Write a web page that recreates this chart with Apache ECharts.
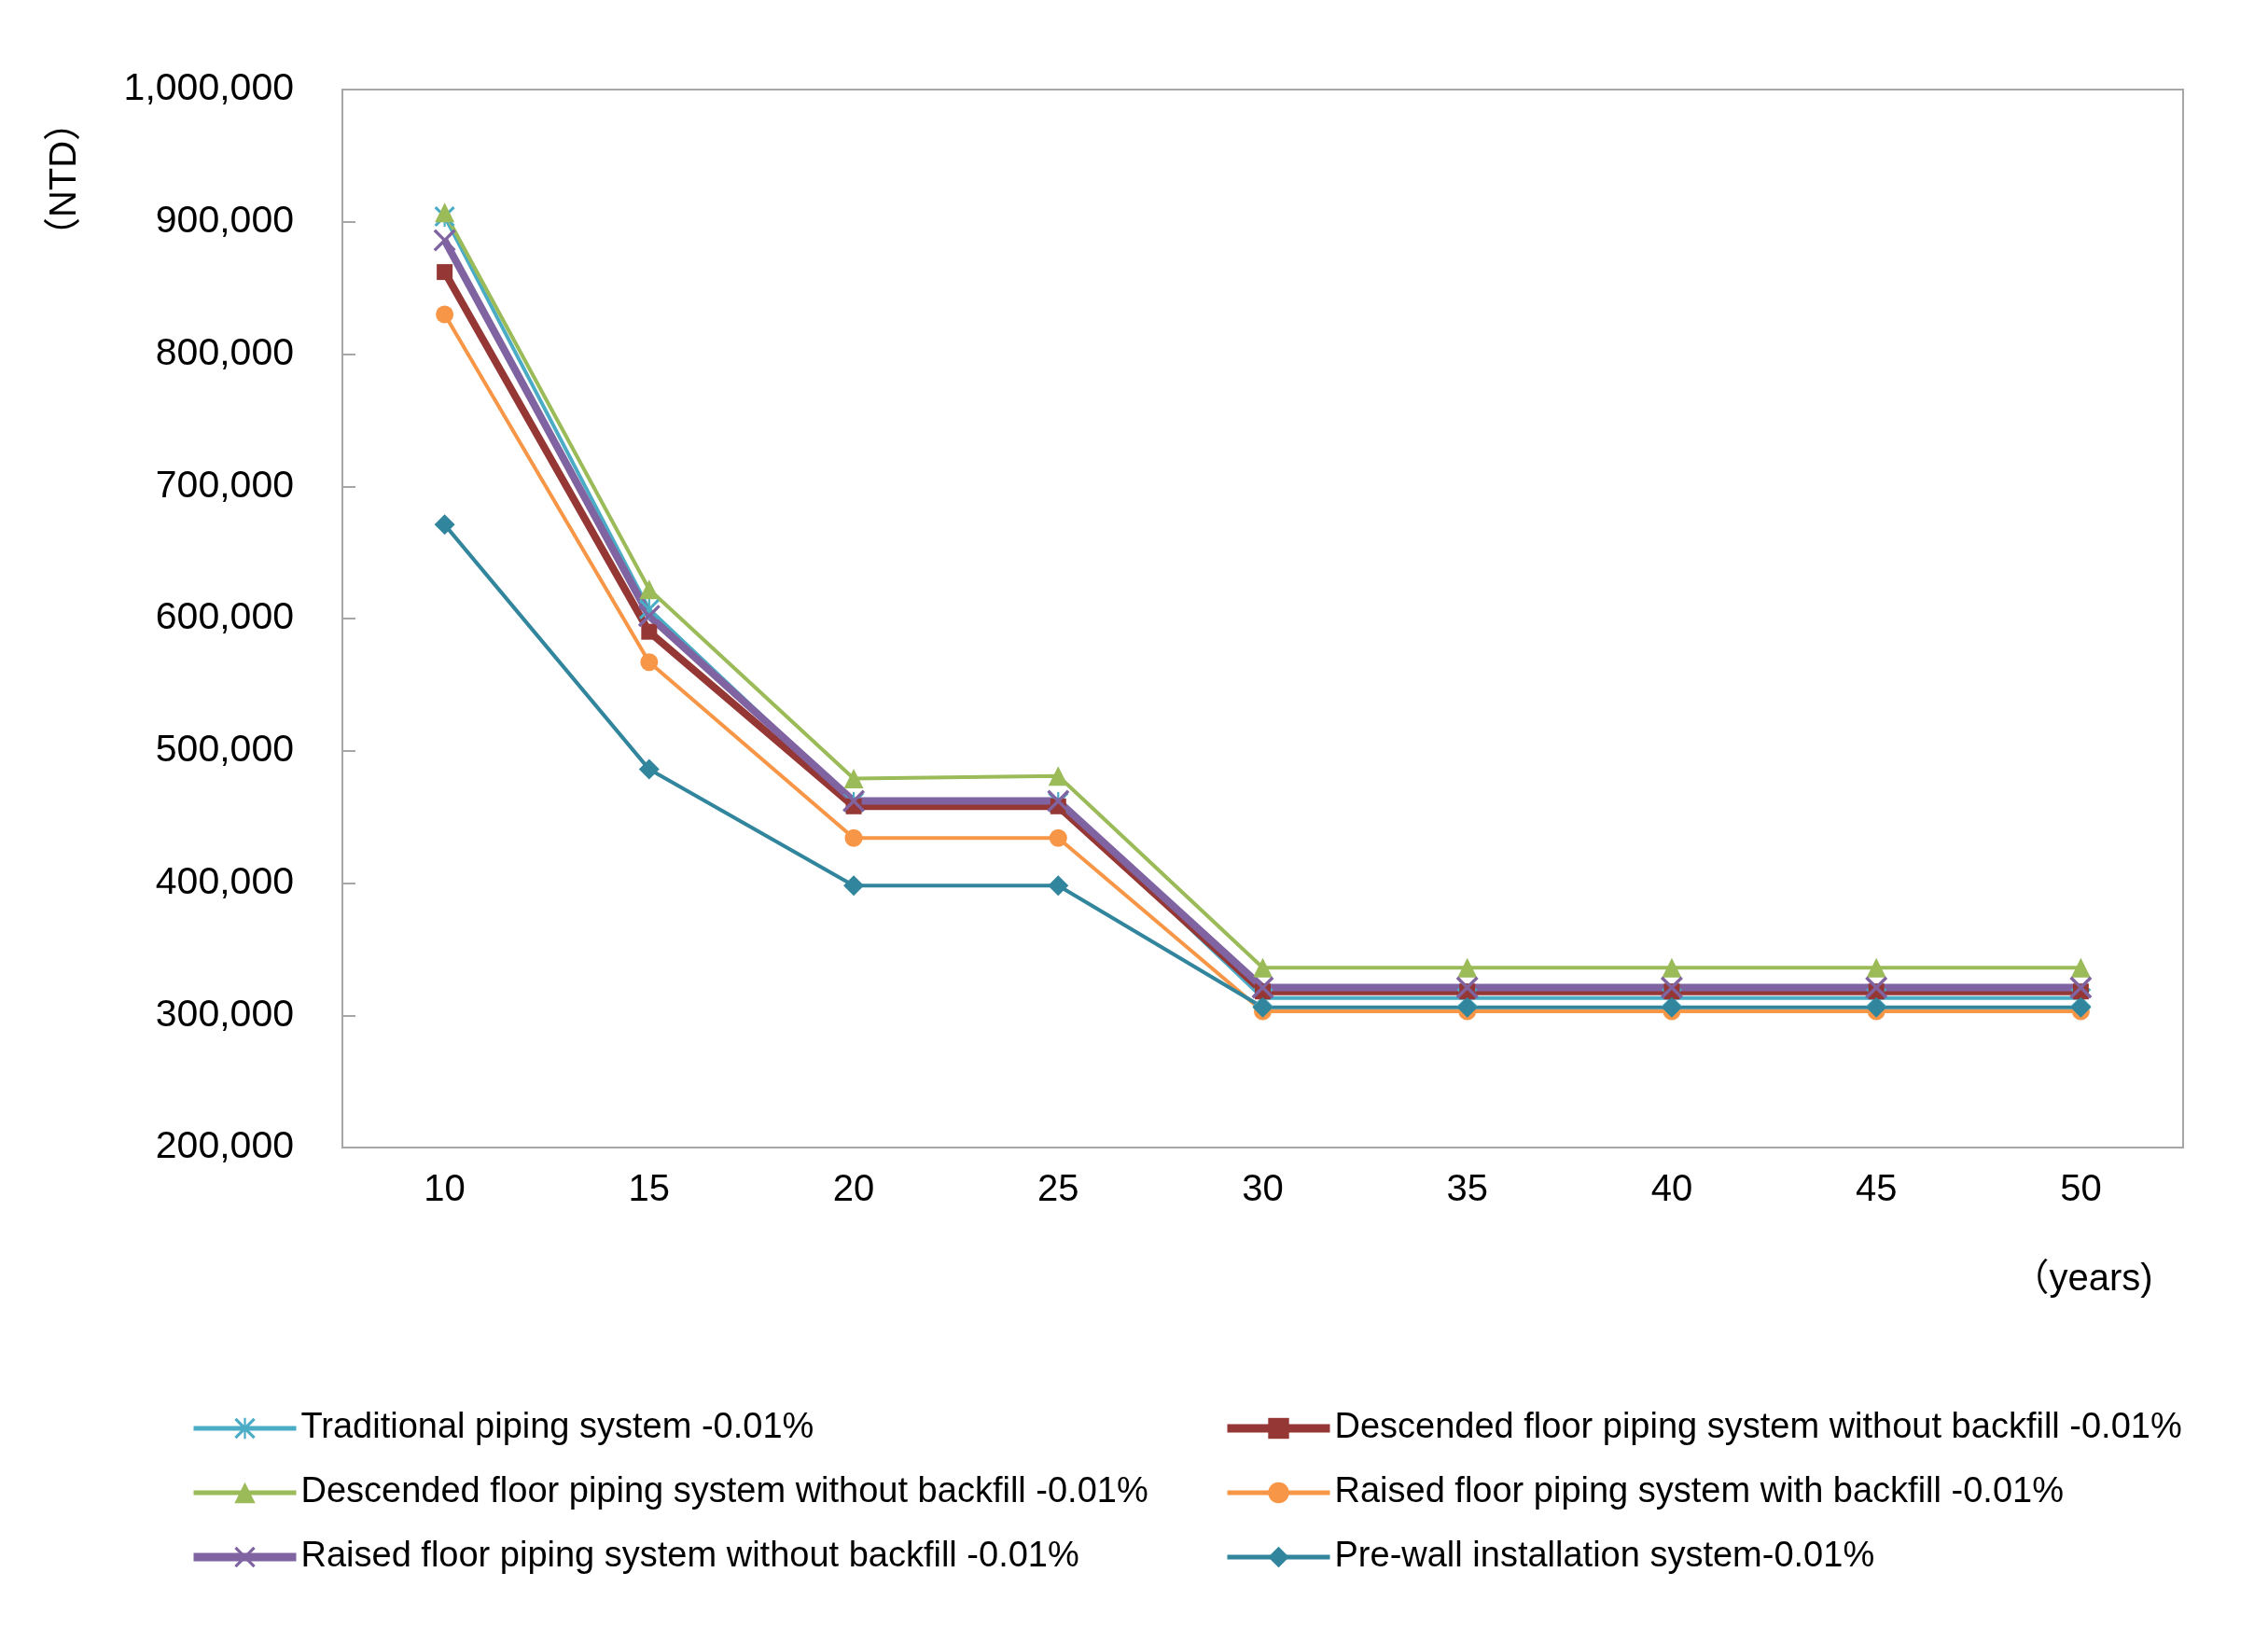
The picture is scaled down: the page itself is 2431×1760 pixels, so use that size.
<!DOCTYPE html>
<html>
<head>
<meta charset="utf-8">
<script src="https://cdn.jsdelivr.net/npm/echarts@6/dist/echarts.min.js"></script>
<style>
html,body{margin:0;padding:0;background:#fff;}
#chart{width:2431px;height:1760px;}
</style>
</head>
<body>
<div id="chart"></div>
<script>
// ---- data ----
const years = ['10', '15', '20', '25', '30', '35', '40', '45', '50'];
const yTicks = [200000, 300000, 400000, 500000, 600000, 700000, 800000, 900000, 1000000];

const traditional      = [904000, 607000, 461000, 461000, 313000, 313000, 313000, 313000, 313000];
const descendedRed     = [862000, 590000, 458000, 458000, 318000, 318000, 318000, 318000, 318000];
const descendedGreen   = [907000, 622000, 479000, 481000, 336000, 336000, 336000, 336000, 336000];
const raisedWith       = [830000, 567000, 434000, 434000, 303000, 303000, 303000, 303000, 303000];
const raisedWithout    = [886000, 602000, 462000, 462000, 321000, 321000, 321000, 321000, 321000];
const preWall          = [671000, 486000, 398000, 398000, 306000, 306000, 306000, 306000, 306000];

const names = [
  'Traditional piping system -0.01%',
  'Descended floor piping system without backfill -0.01%',
  'Descended floor piping system without backfill -0.01%\u200b',
  'Raised floor piping system with backfill -0.01%',
  'Raised floor piping system without backfill -0.01%',
  'Pre-wall installation system-0.01%'
];
const colors = ['#4BACC6', '#953735', '#9BBB59', '#F79646', '#8064A2', '#31859C'];
const widths = [4, 8, 4, 4, 8, 4];

const FONT = '"Liberation Sans", Arial, "Noto Sans CJK SC", sans-serif';
const X_PATH = 'path://M0,2 L2,0 L10,8 L18,0 L20,2 L12,10 L20,18 L18,20 L10,12 L2,20 L0,18 L8,10 Z';
const AST_PATH = 'path://M0,2 L2,0 L10,8 L18,0 L20,2 L12,10 L20,18 L18,20 L10,12 L2,20 L0,18 L8,10 Z M9,0 L11,0 L11,20 L9,20 Z';

function mk(i, data, symbol, size) {
  return {
    name: names[i], type: 'line', data: data,
    symbol: symbol, symbolSize: size, showAllSymbol: true,
    lineStyle: { color: colors[i], width: widths[i] },
    itemStyle: { color: colors[i] },
    emphasis: { disabled: true },
    animation: false
  };
}
function legItem(i) {
  return { name: names[i], lineStyle: { width: widths[i] + 1, color: colors[i] } };
}

const chart = echarts.init(document.getElementById('chart'));
const legendCommon = {
  orient: 'vertical',
  itemWidth: 110, itemHeight: 28, itemGap: 29,
  textStyle: { fontFamily: FONT, fontSize: 38, color: '#000', lineHeight: 40 },
  formatter: n => n.replace(/\u200b/g, ''),
  selectedMode: false
};
chart.setOption({
  backgroundColor: '#fff',
  animation: false,
  grid: { left: 367, right: 91, top: 96, bottom: 530, show: true, borderColor: '#A6A6A6', borderWidth: 2, containLabel: false },
  legend: [
    Object.assign({ left: 198, top: 1506, data: [legItem(0), legItem(2), legItem(4)] }, legendCommon),
    Object.assign({ left: 1306, top: 1506, data: [legItem(1), legItem(3), legItem(5)] }, legendCommon)
  ],
  xAxis: {
    type: 'category', data: years, boundaryGap: true,
    axisLine: { lineStyle: { color: '#A6A6A6', width: 2 } },
    axisTick: { inside: true, length: 14, lineStyle: { color: '#A6A6A6', width: 2 } },
    axisLabel: { fontFamily: FONT, fontSize: 40, color: '#000', margin: 26 },
    splitLine: { show: false }
  },
  yAxis: {
    type: 'value', min: 200000, max: 1000000, interval: 100000,
    axisLine: { show: true, lineStyle: { color: '#A6A6A6', width: 2 } },
    axisTick: { show: true, inside: true, length: 14, lineStyle: { color: '#A6A6A6', width: 2 } },
    axisLabel: { fontFamily: FONT, fontSize: 41, color: '#000', margin: 52,
      formatter: v => yTicks.indexOf(v) >= 0 ? v.toLocaleString('en-US') : '' },
    splitLine: { show: false }
  },
  graphic: [
    { type: 'text', x: 70, y: 192, rotation: Math.PI / 2,
      style: { text: '（NTD）', fontFamily: FONT, fontSize: 40, fill: '#000', textAlign: 'center', textVerticalAlign: 'middle' } },
    { type: 'text', x: 2232, y: 1372,
      style: { text: '（years)', fontFamily: FONT, fontSize: 40, fill: '#000', textAlign: 'center', textVerticalAlign: 'middle' } }
  ],
  series: [
    mk(0, traditional, AST_PATH, 22),
    mk(1, descendedRed, 'rect', 17),
    mk(2, descendedGreen, 'triangle', 21),
    mk(3, raisedWith, 'circle', 19),
    mk(4, raisedWithout, X_PATH, 24),
    mk(5, preWall, 'diamond', 22)
  ]
});
</script>
</body>
</html>
